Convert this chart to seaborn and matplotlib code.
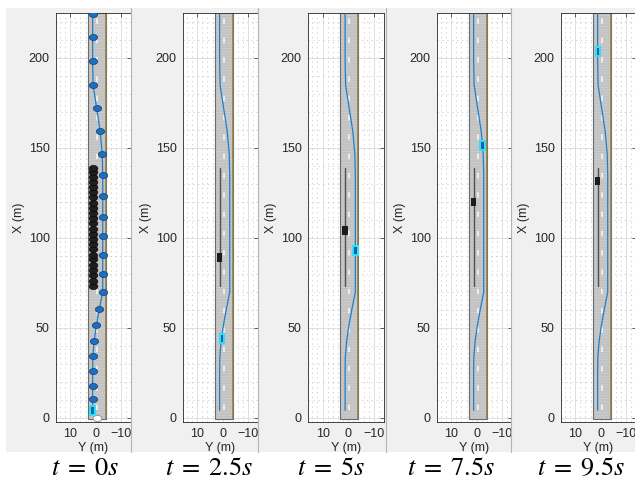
import numpy as np
import pandas as pd
import matplotlib
matplotlib.use("Agg")
import matplotlib.pyplot as plt
import seaborn as sns
from matplotlib.patches import Rectangle
from matplotlib.lines import Line2D
from matplotlib.path import Path
from matplotlib.transforms import Affine2D
from matplotlib.ticker import MultipleLocator

# ---------------- data ----------------
time_labels = ["0", "2.5", "5", "7.5", "9.5"]

# ego trajectory samples (lateral Y, longitudinal X) in metres
traj_X = [4.0, 10.2, 17.8, 25.8, 34.0, 42.5, 51.3, 60.5, 69.8, 80.0, 90.3,
          101.0, 111.6, 123.0, 134.8, 146.7, 159.3, 172.0, 184.8, 198.3,
          211.8, 224.5]
traj_Y = [1.2, 1.2, 1.2, 1.2, 1.1, 0.6, -0.3, -1.5, -2.8, -2.8, -2.8,
          -2.8, -2.8, -2.8, -2.8, -2.6, -1.8, -0.4, 1.0, 1.2,
          1.2, 1.2]

# obstacle vehicle positions (panel 1 dots)
obs_X = [73.0, 76.0, 79.0, 82.0, 85.0, 88.0, 90.5, 93.5, 96.5, 99.5, 102.0,
         105.0, 108.0, 111.0, 114.0, 116.5, 119.5, 122.5, 125.5, 128.0,
         131.0, 134.0, 136.5, 139.0]
obs_Y = 1.0
obs_path_Y = 1.2

# vehicle positions at each snapshot
ego_X_at = [4.0, 44.0, 93.0, 151.5, 203.5]
ego_Y_at = [1.2, 0.2, -2.9, -2.4, 1.0]
obs_X_at = [None, 89.0, 104.0, 120.0, 131.5]

start_X, start_Y = 0.0, -0.4

road_left, road_right = 3.0, -4.0
lane_mark_Y = -0.4

y_ticks = [10, 0, -10]
x_ticks = [0, 50, 100, 150, 200]

# ---------------- style ----------------
sns.set_theme(style="white")
plt.rcParams["font.family"] = ["Liberation Sans", "DejaVu Sans"]
plt.rcParams["mathtext.fontset"] = "stix"
plt.rcParams["lines.scale_dashes"] = False
plt.rcParams["hatch.linewidth"] = 0.6

W, H = 635, 484
fig = plt.figure(figsize=(W / 100, H / 100), dpi=100)
fig.patch.set_facecolor("white")


def frect(x0, x1, y0, y1):
    return [x0 / W, 1 - y1 / H, (x1 - x0) / W, (y1 - y0) / H]


bg_x = [(6, 131), (131, 258), (258, 386), (386, 511), (511, 635)]
ax_x = [(56, 131), (183, 258), (308, 384), (437, 512), (561, 636)]
text_cx = [85, 209, 331, 451, 581]

ellipse = Path.unit_circle().transformed(Affine2D().scale(1.0, 0.72))
blue = "#1f7fcc"

for i in range(5):
    zb = 2 * i + 1
    # panel background
    b0, b1 = bg_x[i]
    fig.patches.append(Rectangle((b0 / W, 1 - 452 / H), (b1 - b0) / W, 444 / H,
                                 transform=fig.transFigure, facecolor="#f0f0f0",
                                 edgecolor="none", zorder=zb))
    if i > 0:
        fig.lines.append(Line2D([b0 / W, b0 / W], [1 - 452 / H, 1 - 8 / H],
                                transform=fig.transFigure, color="#b4b4b4",
                                lw=0.8, zorder=zb + 0.5))

    ax = fig.add_axes(frect(ax_x[i][0], ax_x[i][1], 13, 422))
    ax.set_zorder(zb + 1)
    ax.set_facecolor("white")
    ax.set_xlim(15.7, -14.0)
    ax.set_ylim(-2.5, 225)
    ax.set_xticks(y_ticks)
    ax.set_yticks(x_ticks)
    ax.xaxis.set_minor_locator(MultipleLocator(2))
    ax.yaxis.set_minor_locator(MultipleLocator(10))
    ax.set_axisbelow(True)
    ax.grid(which="major", color="#d9d9d9", lw=0.6, ls="-")
    ax.grid(which="minor", color="#c4c4c4", lw=0.5, ls=(0, (1, 2.5)))
    ax.tick_params(which="major", direction="in", length=3, width=0.5,
                   top=True, right=True, labelsize=9, colors="#262626", pad=4.5)
    ax.tick_params(which="minor", length=0)
    for s in ax.spines.values():
        s.set_color("#262626")
        s.set_linewidth(0.6)
    ax.set_xlabel("Y (m)", fontsize=9, color="#262626", labelpad=1.5)
    ax.set_ylabel("X (m)", fontsize=9, color="#262626", labelpad=3)

    # road
    ax.add_patch(Rectangle((road_right, -1.0), road_left - road_right, 240,
                           facecolor="#c2c2c2", edgecolor="#cdcdcd", lw=0,
                           hatch="------", zorder=1))
    ax.add_patch(Rectangle((road_right, -1.0), road_left - road_right, 240,
                           facecolor="none", edgecolor="#6a6a6a", lw=0.8, zorder=1.5))
    ax.plot([road_right, road_right], [-1.0, 240], color="#8c7c48", lw=1.1, zorder=1.6)
    ax.plot([lane_mark_Y, lane_mark_Y], [4, 240], color="#f4f4f4", lw=1.2,
            dashes=(3.9, 10.0), zorder=1.7)

    if i > 0:
        ax.plot([obs_path_Y, obs_path_Y], [obs_X[0], obs_X[-1]], color="#505050",
                lw=1.0, zorder=2)

    # ego trajectory
    sns.lineplot(x=traj_Y, y=traj_X, sort=False, estimator=None, color=blue,
                 lw=0.9, ax=ax, zorder=3)

    if i == 0:
        sns.scatterplot(x=[obs_Y] * len(obs_X), y=obs_X, marker=ellipse, s=40,
                        color="#1e1e1e", edgecolor="#000000", linewidth=0.4,
                        ax=ax, zorder=4)
        sns.scatterplot(x=traj_Y[1:], y=traj_X[1:], marker=ellipse, s=36,
                        color="#1f6fc0", edgecolor="#0b3c78", linewidth=0.5,
                        ax=ax, zorder=5)
        sns.scatterplot(x=[start_Y], y=[start_X], marker=ellipse, s=40,
                        color="white", edgecolor="#888888", linewidth=0.6,
                        ax=ax, zorder=5)
    else:
        ox = obs_X_at[i]
        ax.add_patch(Rectangle((obs_path_Y - 1.1, ox - 2.3), 2.2, 4.6,
                               facecolor="#1c1c1c", edgecolor="none", zorder=4))

    ex, ey = ego_X_at[i], ego_Y_at[i]
    ax.add_patch(Rectangle((ey - 1.3, ex - 3.0), 2.6, 6.0,
                           facecolor="#2fe0f2", edgecolor="none", zorder=6))
    ax.add_patch(Rectangle((ey - 0.5, ex - 2.0), 1.0, 4.0,
                           facecolor="#1a5fb4", edgecolor="none", zorder=7))

    fig.text(text_cx[i] / W, 1 - 468 / H,
             r"$t\;=\;" + time_labels[i] + r"s$",
             ha="center", va="center", fontsize=19, color="black", zorder=20)

fig.savefig("out.png", dpi=100)
